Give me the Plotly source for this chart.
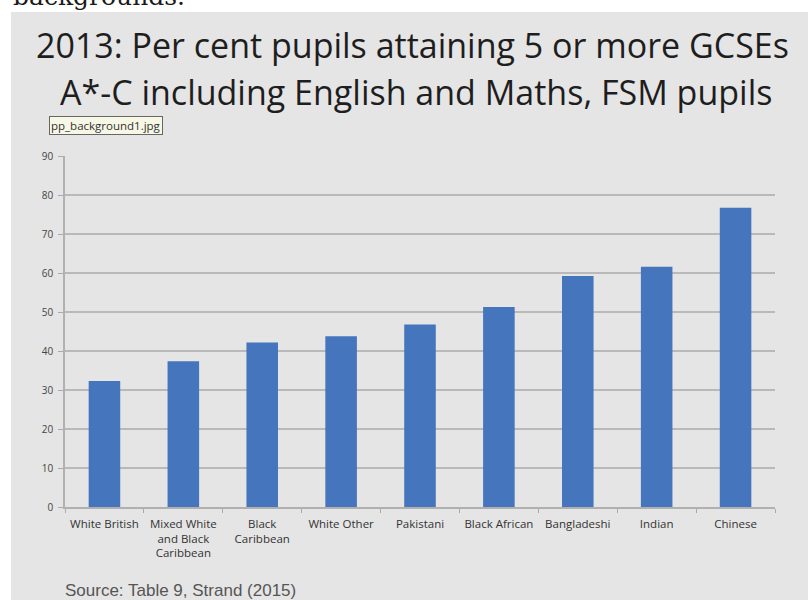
import plotly.graph_objects as go

# Ethnic groups (x categories) and per cent of FSM pupils attaining 5+ GCSEs A*-C incl. English & Maths
categories = [
    "White British",
    "Mixed White<br>and Black<br>Caribbean",
    "Black<br>Caribbean",
    "White Other",
    "Pakistani",
    "Black African",
    "Bangladeshi",
    "Indian",
    "Chinese",
]
values = [32.3, 37.4, 42.2, 43.8, 46.8, 51.3, 59.2, 61.6, 76.7]
y_ticks = [0, 10, 20, 30, 40, 50, 60, 70, 80, 90]

title_line1 = "2013: Per cent pupils attaining 5 or more GCSEs"
title_line2 = "A*-C including English and Maths, FSM pupils"
source_text = "Source: Table 9, Strand (2015)"

W, H = 808, 600
L, R, T, B = 65, 33, 156, 93
pw, ph = W - L - R, H - T - B


def px(x):
    return (x - L) / pw


def py(y):
    return (H - B - y) / ph


panel = "#e5e5e5"
bar_color = "#4475bd"

fig = go.Figure(
    go.Bar(
        x=categories,
        y=values,
        marker=dict(color=bar_color, line=dict(width=0)),
        hoverinfo="skip",
    )
)

fig.update_layout(
    width=W,
    height=H,
    margin=dict(l=L, r=R, t=T, b=B, pad=0),
    paper_bgcolor="white",
    plot_bgcolor=panel,
    bargap=0.6,
    showlegend=False,
    font=dict(family="Open Sans", color="#333333"),
)

fig.update_yaxes(
    range=[0, 90],
    tickvals=y_ticks,
    ticks="outside",
    ticklen=5,
    tickcolor="#aaaaaa",
    showgrid=True,
    gridcolor="#b9b9b9",
    gridwidth=1.6,
    showline=True,
    linecolor="#b0b0b0",
    linewidth=1.5,
    zeroline=False,
    tickfont=dict(family="Open Sans", size=10, color="#444444"),
    ticklabelstandoff=3,
    fixedrange=True,
)
fig.update_xaxes(
    ticks="outside",
    tickson="boundaries",
    ticklen=4,
    tickcolor="#aaaaaa",
    showline=True,
    linecolor="#b0b0b0",
    linewidth=1.5,
    tickangle=0,
    tickfont=dict(family="Open Sans", size=11.5, color="#333333"),
    ticklabelstandoff=5,
    fixedrange=True,
)

# grey slide panel behind the chart
fig.add_shape(
    type="rect", xref="paper", yref="paper",
    x0=px(11), x1=px(W + 2), y0=py(H + 2), y1=py(12),
    fillcolor=panel, line=dict(width=0), layer="below",
)

# clipped line of text above the panel
fig.add_annotation(
    text="backgrounds.", xref="paper", yref="paper",
    x=px(11), y=py(13), xanchor="left", yanchor="bottom",
    showarrow=False, font=dict(family="DejaVu Serif", size=25, color="#1a1a1a"),
)

# two-line title
fig.add_annotation(
    text=title_line1, xref="paper", yref="paper",
    x=px(412), y=py(45), xanchor="center", yanchor="middle",
    showarrow=False, font=dict(family="Open Sans", size=34, color="#1e1e1e"),
)
fig.add_annotation(
    text=title_line2, xref="paper", yref="paper",
    x=px(416), y=py(92), xanchor="center", yanchor="middle",
    showarrow=False, font=dict(family="Open Sans", size=34, color="#1e1e1e"),
)

# file-name label box
fig.add_annotation(
    text="pp_background1.jpg", xref="paper", yref="paper",
    x=px(49), y=py(125), xanchor="left", yanchor="middle",
    showarrow=False, font=dict(family="Open Sans", size=11.5, color="#333333"),
    bgcolor="#f7f7e6", bordercolor="#666666", borderwidth=1, borderpad=1,
)

# source note
fig.add_annotation(
    text=source_text, xref="paper", yref="paper",
    x=px(63), y=py(590), xanchor="left", yanchor="middle",
    showarrow=False, font=dict(family="Liberation Sans", size=17, color="#555555"),
)

fig.write_html("out.html")
